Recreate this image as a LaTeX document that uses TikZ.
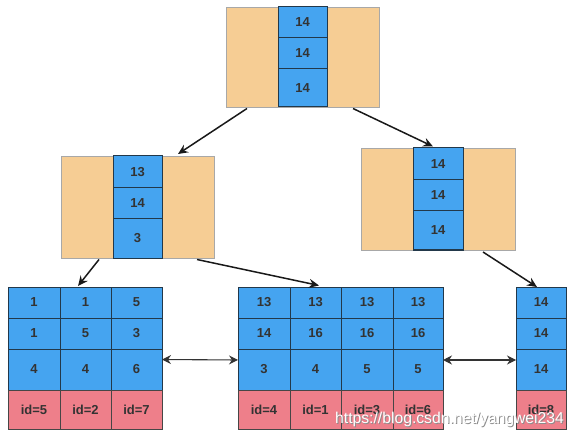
\documentclass[tikz,border=0pt]{standalone}
\usepackage{fontspec}
\setmainfont{Liberation Sans}
\usetikzlibrary{arrows.meta}
\definecolor{nodeorange}{HTML}{F6CD94}
\definecolor{orangeline}{HTML}{A8A8A8}
\definecolor{keyblue}{HTML}{45A4F0}
\definecolor{blueline}{HTML}{22384A}
\definecolor{rowpink}{HTML}{EE7F8A}
\definecolor{pinkline}{HTML}{464646}
\definecolor{txt}{HTML}{333333}
\newcommand\cellbox[7]{\node[#1, minimum width={(#5-#3)*1pt}, minimum height={(#6-#4)*1pt}] (#2) at ({(#3+#5)/2},{(#4+#6)/2}) {#7};}
\tikzset{
  base/.style={inner sep=0pt, outer sep=0pt, font=\fontsize{13}{15}\selectfont\bfseries, text=txt},
  pagebox/.style={base, fill=nodeorange, draw=orangeline, line width=0.8pt},
  keycell/.style={base, fill=keyblue, draw=blueline, line width=1pt},
  idcell/.style={base, fill=rowpink, draw=pinkline, line width=1pt},
  arr/.style={line width=1.5pt, draw=black!90, -{Stealth[length=10pt,width=9pt,inset=3.5pt]}},
  link/.style={line width=1.1pt, draw=black!80, {Stealth[length=9pt,width=9pt,inset=3pt]}-{Stealth[length=9pt,width=9pt,inset=3pt]}},
  wmark/.style={inner sep=0pt, font=\fontsize{15.7}{18}\selectfont, anchor=base west}
}
\begin{document}
\begin{tikzpicture}[x=1pt,y=-1pt]
\useasboundingbox (0,0) rectangle (575,438);
% top page
\cellbox{pagebox}{top}{226}{7}{379}{107}{}
\cellbox{keycell}{t1}{278}{7}{327}{38}{14}
\cellbox{keycell}{t2}{278}{38}{327}{69}{14}
\cellbox{keycell}{t3}{278}{69}{327}{107}{14}
% middle left page
\cellbox{pagebox}{ml}{61}{156}{214}{258}{}
\cellbox{keycell}{ml1}{113}{156}{162}{188}{13}
\cellbox{keycell}{ml2}{113}{188}{162}{219}{14}
\cellbox{keycell}{ml3}{113}{219}{162}{258}{3}
% middle right page
\cellbox{pagebox}{mr}{361}{148}{515}{250}{}
\cellbox{keycell}{mr1}{413}{148}{463}{180}{14}
\cellbox{keycell}{mr2}{413}{180}{463}{211}{14}
\cellbox{keycell}{mr3}{413}{211}{463}{250}{14}
% leaf left
\cellbox{keycell}{L11}{8}{287}{60}{318}{1}
\cellbox{keycell}{L12}{60}{287}{111}{318}{1}
\cellbox{keycell}{L13}{111}{287}{162}{318}{5}
\cellbox{keycell}{L21}{8}{318}{60}{349}{1}
\cellbox{keycell}{L22}{60}{318}{111}{349}{5}
\cellbox{keycell}{L23}{111}{318}{162}{349}{3}
\cellbox{keycell}{L31}{8}{349}{60}{390}{4}
\cellbox{keycell}{L32}{60}{349}{111}{390}{4}
\cellbox{keycell}{L33}{111}{349}{162}{390}{6}
\cellbox{idcell}{L41}{8}{390}{60}{429}{id=5}
\cellbox{idcell}{L42}{60}{390}{111}{429}{id=2}
\cellbox{idcell}{L43}{111}{390}{162}{429}{id=7}
% leaf middle
\cellbox{keycell}{M11}{238}{287}{290}{318}{13}
\cellbox{keycell}{M12}{290}{287}{341}{318}{13}
\cellbox{keycell}{M13}{341}{287}{393}{318}{13}
\cellbox{keycell}{M14}{393}{287}{443}{318}{13}
\cellbox{keycell}{M21}{238}{318}{290}{349}{14}
\cellbox{keycell}{M22}{290}{318}{341}{349}{16}
\cellbox{keycell}{M23}{341}{318}{393}{349}{16}
\cellbox{keycell}{M24}{393}{318}{443}{349}{16}
\cellbox{keycell}{M31}{238}{349}{290}{390}{3}
\cellbox{keycell}{M32}{290}{349}{341}{390}{4}
\cellbox{keycell}{M33}{341}{349}{393}{390}{5}
\cellbox{keycell}{M34}{393}{349}{443}{390}{5}
\cellbox{idcell}{M41}{238}{390}{290}{429}{id=4}
\cellbox{idcell}{M42}{290}{390}{341}{429}{id=1}
\cellbox{idcell}{M43}{341}{390}{393}{429}{id=3}
\cellbox{idcell}{M44}{393}{390}{443}{429}{id=6}
% leaf right
\cellbox{keycell}{R1}{516}{287}{566}{318}{14}
\cellbox{keycell}{R2}{516}{318}{566}{349}{14}
\cellbox{keycell}{R3}{516}{349}{566}{390}{14}
\cellbox{idcell}{R4}{516}{390}{566}{429}{id=8}
% tree arrows
\draw[arr] ([xshift=-55.5pt,yshift=-1.5pt]top.south) -- ([xshift=40.5pt,yshift=2pt]ml.north);
\draw[arr] ([xshift=50.5pt,yshift=-1.5pt]top.south) -- ([xshift=-5pt,yshift=1.5pt]mr.north);
\draw[arr] ([xshift=-38.5pt,yshift=-1.5pt]ml.south) -- ([xshift=-7.5pt,yshift=1pt]L12.north);
\draw[arr] ([xshift=59.5pt,yshift=-1.5pt]ml.south) -- ([xshift=3.5pt,yshift=1.5pt]M12.north);
\draw[arr] ([xshift=45pt,yshift=-2pt]mr.south) -- ([xshift=-4pt,yshift=0pt]R1.north);
% leaf links
\draw[link] ([yshift=10pt]L33.east) -- ([yshift=9.5pt]M31.west);
\draw[link] ([yshift=9.5pt]M34.east) -- ([yshift=9.5pt]R3.west);
% watermark
\node[wmark, text=black!45] (wmshadow) at (336,424) {https://blog.csdn.net/yangwei234};
\node[wmark, text=white] (wm) at (335,423) {https://blog.csdn.net/yangwei234};
\end{tikzpicture}
\end{document}
